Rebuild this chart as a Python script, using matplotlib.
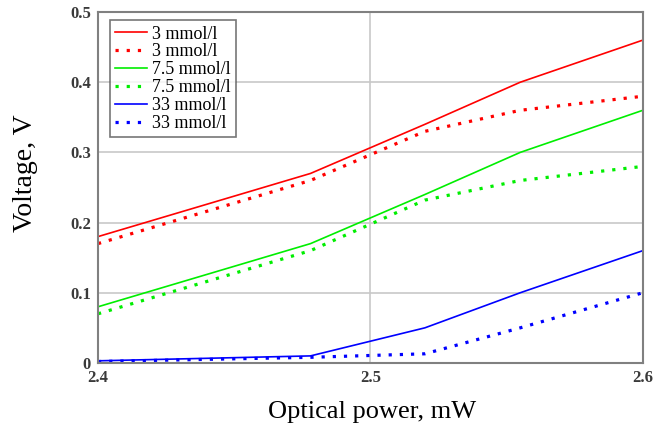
import matplotlib
matplotlib.use("Agg")
import matplotlib.pyplot as plt

# optical power, mW
power = [2.4, 2.478, 2.52, 2.555, 2.6]

# voltage, V  (solid = first set, dotted = second set)
v3_a = [0.18, 0.27, 0.34, 0.40, 0.46]
v3_b = [0.17, 0.26, 0.33, 0.36, 0.38]
v75_a = [0.08, 0.17, 0.24, 0.30, 0.36]
v75_b = [0.07, 0.16, 0.232, 0.26, 0.28]
v33_a = [0.003, 0.01, 0.05, 0.10, 0.16]
v33_b = [0.002, 0.008, 0.013, 0.05, 0.10]

labels = ["3 mmol/l", "3 mmol/l", "7.5 mmol/l", "7.5 mmol/l", "33 mmol/l", "33 mmol/l"]

plt.rcParams['font.family'] = ['Liberation Serif', 'DejaVu Serif']

W, H = 660, 430
fig = plt.figure(figsize=(W / 100, H / 100), dpi=100)
ax = fig.add_axes([0.1485, 0.156, 0.8255, 0.816])

dot = (0, (1, 2.5))
ax.plot(power, v3_a, color='#ff0000', lw=1.2, label=labels[0])
ax.plot(power, v3_b, color='#ff0000', lw=2.3, ls=dot, label=labels[1])
ax.plot(power, v75_a, color='#00ee00', lw=1.2, label=labels[2])
ax.plot(power, v75_b, color='#00ee00', lw=2.3, ls=dot, label=labels[3])
ax.plot(power, v33_a, color='#0000ff', lw=1.2, label=labels[4])
ax.plot(power, v33_b, color='#0000ff', lw=2.3, ls=dot, label=labels[5])

ax.set_xlim(2.4, 2.6)
ax.set_ylim(0, 0.5)
ax.set_xticks([2.4, 2.5, 2.6])
ax.set_xticklabels(["2.4", "2.5", "2.6"])
ax.set_yticks([0, 0.1, 0.2, 0.3, 0.4, 0.5])
ax.set_yticklabels(["0", "0.1", "0.2", "0.3", "0.4", "0.5"])
ax.tick_params(length=0, labelsize=12, labelcolor='#3a3a3a', pad=5)
for t in ax.get_xticklabels() + ax.get_yticklabels():
    t.set_fontweight('bold')

ax.grid(True, color='#c8c8c8', lw=1.2)
ax.set_axisbelow(True)
for s in ax.spines.values():
    s.set_color('#808080')
    s.set_linewidth(1.5)

# axis titles placed in pixel positions of the original
fig.text(372 / W, 1 - 412 / H, "Optical power, mW", fontsize=19,
         ha='center', va='center')
fig.text(25 / W, 1 - 173 / H, "Voltage, V", fontsize=20, rotation=90,
         ha='center', va='center')

leg = ax.legend(loc='upper left', fontsize=13, handlelength=1.75, handletextpad=0.25,
                labelspacing=0.05, borderpad=0.3, borderaxespad=0, fancybox=False,
                bbox_to_anchor=(0.022, 0.977))
leg.get_frame().set_edgecolor('#555555')
leg.get_frame().set_linewidth(1.2)

fig.savefig("out.png", dpi=100)
